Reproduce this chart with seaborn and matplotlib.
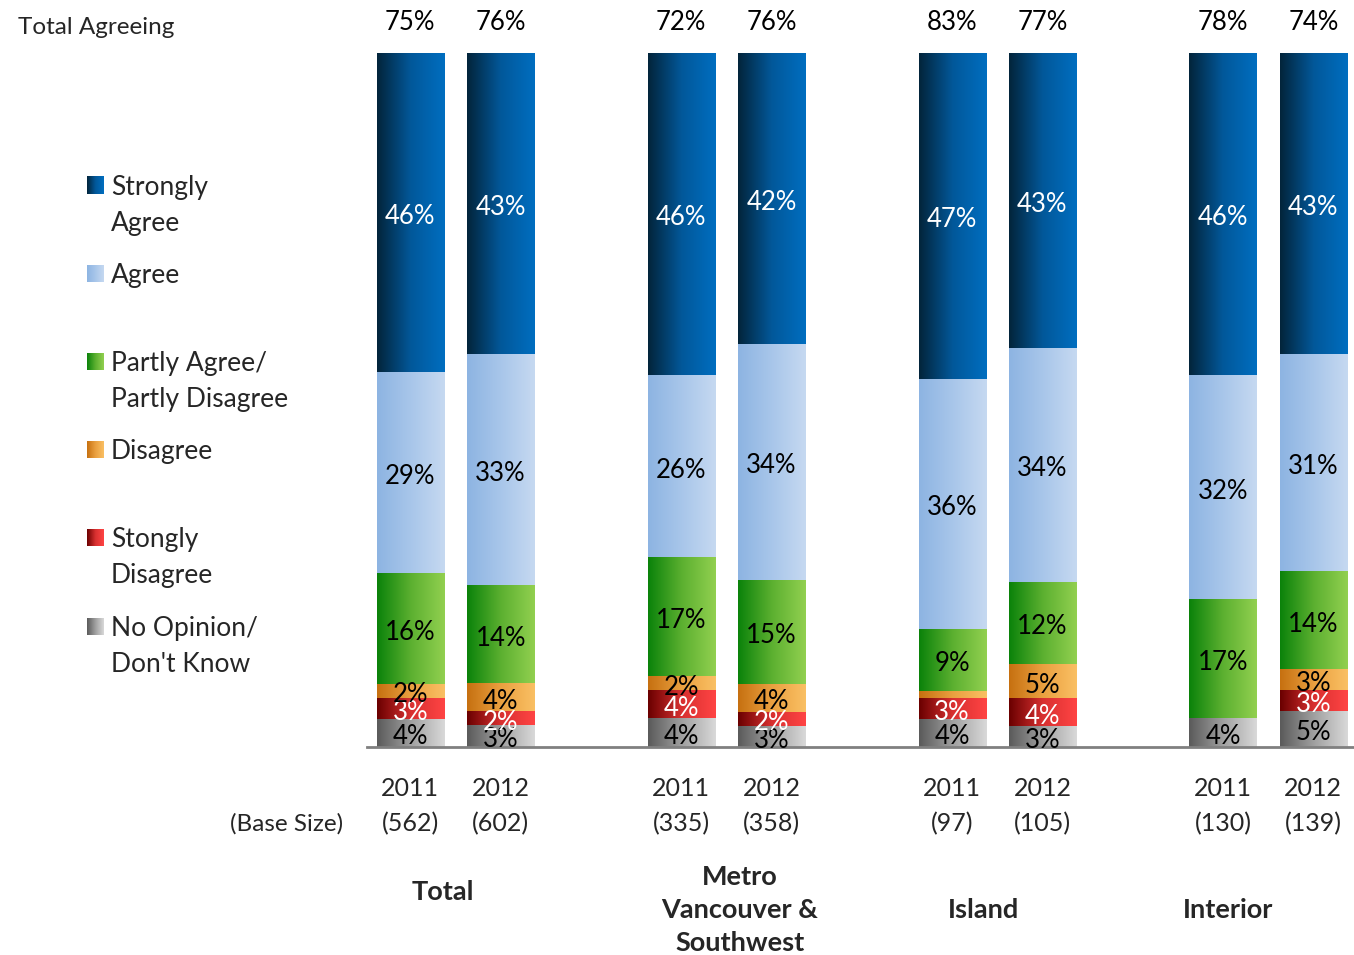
import numpy as np
import pandas as pd
import matplotlib
matplotlib.use("Agg")
import matplotlib.pyplot as plt
import seaborn as sns
from matplotlib.colors import LinearSegmentedColormap

# ---------------- data ----------------
groups = ["Total", "Metro\nVancouver &\nSouthwest", "Island", "Interior"]
years = ["2011", "2012", "2011", "2012", "2011", "2012", "2011", "2012"]
base_sizes = ["(562)", "(602)", "(335)", "(358)", "(97)", "(105)", "(130)", "(139)"]
total_agreeing = ["75%", "76%", "72%", "76%", "83%", "77%", "78%", "74%"]

categories = ["No Opinion/\nDon't Know", "Stongly\nDisagree", "Disagree",
              "Partly Agree/\nPartly Disagree", "Agree", "Strongly\nAgree"]
no_opinion = [4, 3, 4, 3, 4, 3, 4, 5]
strongly_disagree = [3, 2, 4, 2, 3, 4, 0, 3]
disagree = [2, 4, 2, 4, 1, 5, 0, 3]
partly = [16, 14, 17, 15, 9, 12, 17, 14]
agree = [29, 33, 26, 34, 36, 34, 32, 31]
strongly_agree = [46, 43, 46, 42, 47, 43, 46, 43]

series = [no_opinion, strongly_disagree, disagree, partly, agree, strongly_agree]

# ---------------- style ----------------
sns.set_theme(style="white")
plt.rcParams["font.family"] = ["Lato", "DejaVu Sans"]

x_pos = [0, 1, 3, 4, 6, 7, 9, 10]
grad = [
    ["#5a5a5a", "#a0a0a0", "#d9d9d9"],
    ["#6a0000", "#d83030", "#ff4444"],
    ["#c67010", "#eaa040", "#fac064"],
    ["#0a820a", "#5cb030", "#92d050"],
    ["#8db4e2", "#a8c6ea", "#c6d9f1"],
    ["#03243a", "#02589a", "#006ec0"],
]
label_colors = ["black", "white", "black", "black", "black", "white"]
cmaps = [LinearSegmentedColormap.from_list(f"g{i}", list(zip([0, 0.5, 1], g)))
         for i, g in enumerate(grad)]

W, H = 1354, 955
fig = plt.figure(figsize=(W / 100, H / 100), dpi=100)
ax = fig.add_axes([367 / W, (H - 747) / H, (W - 367) / W, 694 / H])

vals = np.array(series, dtype=float)
totals = vals.sum(axis=0)
norm = vals / totals * 100
cum = np.cumsum(norm, axis=0)

df = pd.DataFrame({"x": x_pos})
grad_img = np.linspace(0, 1, 256).reshape(1, -1)
# draw cumulative bars from the tallest down so shorter ones sit on top
for k in range(len(series) - 1, -1, -1):
    df["h"] = cum[k]
    n_before = len(ax.patches)
    sns.barplot(data=df, x="x", y="h", native_scale=True, width=0.744,
                color=grad[k][2], ax=ax, errorbar=None, linewidth=0)
    for p in ax.patches[n_before:]:
        x0, w, h = p.get_x(), p.get_width(), p.get_height()
        ax.imshow(grad_img, cmap=cmaps[k], extent=[x0, x0 + w, 0, h],
                  aspect="auto", zorder=2 + (len(series) - k), interpolation="bicubic")
        p.set_visible(False)

ax.set_xlim(-0.48, 10.45)
ax.set_ylim(0, 100)
ax.set_xticks([])
ax.set_yticks([])
ax.set_xlabel("")
ax.set_ylabel("")
for s in ["top", "right", "left"]:
    ax.spines[s].set_visible(False)
ax.spines["bottom"].set_color("#808080")
ax.spines["bottom"].set_linewidth(2)
ax.spines["bottom"].set_zorder(20)

LBL = 18.5
PX = 100 / 694  # data units per pixel
# segment labels
for k in range(len(series)):
    for i, x in enumerate(x_pos):
        v = vals[k, i]
        if v >= 2:
            lo = cum[k - 1, i] if k > 0 else 0
            ax.text(x, lo + norm[k, i] / 2 - 3.5 * PX, f"{int(v)}%", ha="center",
                    va="center", fontsize=LBL, color=label_colors[k], zorder=30)

# total agreeing
for i, x in enumerate(x_pos):
    ax.text(x, 100 + 31 * PX, total_agreeing[i], ha="center", va="center",
            fontsize=LBL, color="black", clip_on=False)

# overlay axes in pixel coordinates for surrounding text
ov = fig.add_axes([0, 0, 1, 1], zorder=-1)
ov.set_xlim(0, W)
ov.set_ylim(H, 0)
ov.axis("off")

ov.text(18, 27, "Total Agreeing", ha="left", va="center", fontsize=17.5)
ov.text(343, 824, "(Base Size)", ha="right", va="center", fontsize=17.5)

tr = ax.get_xaxis_transform()
for i, x in enumerate(x_pos):
    ax.text(x, -(788 - 747) / 694, years[i], transform=tr, ha="center", va="center",
            fontsize=18, clip_on=False)
    ax.text(x, -(824 - 747) / 694, base_sizes[i], transform=tr, ha="center", va="center",
            fontsize=18, clip_on=False)

group_xy = [(443, 892), (740, 910), (984, 910), (1228, 910)]
for g, (gx, gy) in zip(groups, group_xy):
    ov.text(gx, gy, g, ha="center", va="center", fontsize=19.5, fontweight="bold",
            linespacing=1.45)

# legend
leg_items = [
    (5, ["Strongly", "Agree"], 186),
    (4, ["Agree"], 274),
    (3, ["Partly Agree/", "Partly Disagree"], 362),
    (2, ["Disagree"], 450),
    (1, ["Stongly", "Disagree"], 538),
    (0, ["No Opinion/", "Don't Know"], 627),
]
for k, lines, y0 in leg_items:
    ov.imshow(grad_img, cmap=cmaps[k], extent=[87, 104, y0 + 8.5, y0 - 8.5],
              aspect="auto", interpolation="bicubic")
    for j, line in enumerate(lines):
        ov.text(111, y0 + 1.5 + j * 35.5, line, ha="left", va="center", fontsize=19)
ov.set_xlim(0, W)
ov.set_ylim(H, 0)

fig.savefig("out.png", dpi=100, facecolor="white")
